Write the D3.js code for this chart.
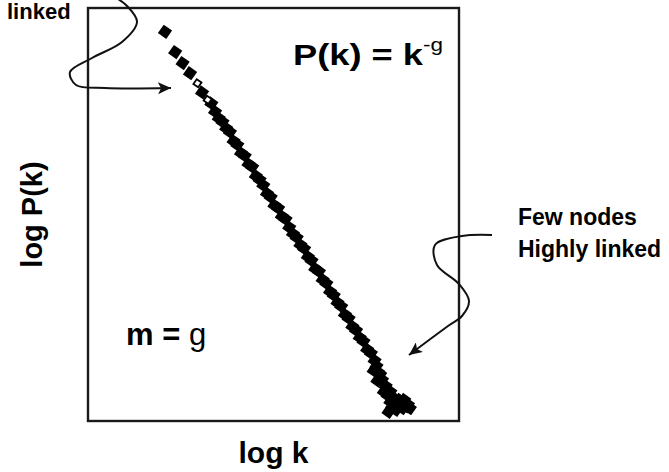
<!DOCTYPE html>
<html>
<head>
<meta charset="utf-8">
<script src="https://cdn.jsdelivr.net/npm/d3@7"></script>
<style>
  body { margin: 0; background: #fff; }
  svg { display: block; font-family: "Liberation Sans", Arial, sans-serif; }
</style>
</head>
<body>
<svg id="drawing_region"></svg>
<script>
// log k / log P(k) readings (filled squares)
const logK = [0.83, 0.94, 1.02, 1.10, 1.23,
  1.33, 1.37, 1.41, 1.45, 1.49, 1.53, 1.57, 1.61, 1.65, 1.69,
  1.73, 1.77, 1.81, 1.85, 1.89, 1.93, 1.97, 2.01, 2.05, 2.09,
  2.13, 2.17, 2.21, 2.25, 2.29, 2.33, 2.37, 2.41, 2.45, 2.49,
  2.53, 2.57, 2.61, 2.65, 2.69, 2.73, 2.77, 2.81, 2.85, 2.89,
  2.93, 2.97, 3.01, 3.05, 3.09, 3.11, 3.13, 3.17, 3.21, 3.19,
  3.26, 3.30, 3.26, 3.34, 3.41, 3.45, 3.39, 3.32, 3.47,
  3.15, 3.23, 3.28, 3.36, 3.43, 3.24, 3.12, 3.08];
const logP = [-0.26, -0.48, -0.60, -0.71, -0.92,
  -1.04, -1.13, -1.20, -1.24, -1.31, -1.35, -1.45, -1.49, -1.58, -1.61,
  -1.70, -1.73, -1.83, -1.87, -1.93, -2.02, -2.06, -2.15, -2.18, -2.27,
  -2.30, -2.39, -2.46, -2.50, -2.58, -2.62, -2.71, -2.75, -2.84, -2.87,
  -2.96, -3.00, -3.09, -3.13, -3.21, -3.25, -3.34, -3.38, -3.47, -3.51,
  -3.59, -3.63, -3.72, -3.76, -3.84, -3.90, -3.97, -4.05, -4.12, -4.18,
  -4.18, -4.25, -4.29, -4.32, -4.27, -4.32, -4.36, -4.38, -4.36,
  -3.99, -4.22, -4.34, -4.27, -4.34, -4.40, -4.06, -3.95];
// open squares
const openK = [1.18, 1.29];
const openP = [-0.82, -1.00];

const xLabel = "log k";
const yLabel = "log P(k)";

class LogLogChart {
    constructor( config ) {
        this.config = config;
        this.init();
    }

    init() {
        let self = this;
        self.svg = d3.select( self.config.parent )
            .attr('width', self.config.width)
            .attr('height', self.config.height);

        const m = self.config.margin;
        self.x0 = m.left; self.x1 = self.config.width - m.right;
        self.y0 = m.top;  self.y1 = self.config.height - m.bottom;

        self.xscale = d3.scaleLinear().domain([0, 4]).range([self.x0, self.x1]);
        self.yscale = d3.scaleLinear().domain([-4.5, 0]).range([self.y1, self.y0]);

        self.svg.append('defs').append('marker')
            .attr('id', 'head')
            .attr('markerUnits', 'userSpaceOnUse')
            .attr('markerWidth', 14).attr('markerHeight', 12)
            .attr('refX', 13).attr('refY', 6)
            .attr('orient', 'auto')
          .append('path')
            .attr('d', 'M0,0 L13,6 L0,12 L3,6 Z')
            .attr('fill', '#111');
    }

    update() {
        this.render();
    }

    render() {
        let self = this;
        const sym = d3.symbol().type(d3.symbolSquare).size(104);

        // frame
        self.svg.append('rect')
            .attr('x', self.x0).attr('y', self.y0)
            .attr('width', self.x1 - self.x0).attr('height', self.y1 - self.y0)
            .attr('fill', 'none').attr('stroke', '#1a1a1a').attr('stroke-width', 2.4);

        const filled = logK.map( (k, i) => ({k: k, p: logP[i]}) );
        const open = openK.map( (k, i) => ({k: k, p: openP[i]}) );

        self.svg.append('g').selectAll('path')
            .data(filled).join('path')
            .attr('d', sym)
            .attr('transform', d => `translate(${self.xscale(d.k)},${self.yscale(d.p)}) rotate(35)`)
            .attr('fill', '#000');

        self.svg.append('g').selectAll('path')
            .data(open).join('path')
            .attr('d', d3.symbol().type(d3.symbolSquare).size(34))
            .attr('transform', d => `translate(${self.xscale(d.k)},${self.yscale(d.p)}) rotate(35)`)
            .attr('fill', '#fff').attr('stroke', '#000').attr('stroke-width', 1.8);

        // axis titles
        self.svg.append('text')
            .attr('x', (self.x0 + self.x1) / 2).attr('y', 463)
            .attr('text-anchor', 'middle')
            .attr('font-size', 30).attr('font-weight', 'bold')
            .text(xLabel);
        self.svg.append('text')
            .attr('transform', `translate(42,${(self.y0 + self.y1) / 2}) rotate(-90)`)
            .attr('text-anchor', 'middle')
            .attr('font-size', 29).attr('font-weight', 'bold')
            .text(yLabel);

        // formula
        const f = self.svg.append('text')
            .attr('transform', 'translate(293,65) scale(1.25,1)')
            .attr('font-size', 29).attr('font-weight', 'bold');
        f.append('tspan').text('P(k) = k');
        f.append('tspan').attr('dy', -14).attr('font-size', 18).attr('font-weight', 'normal').text('-g');

        const mg = self.svg.append('text')
            .attr('x', 126).attr('y', 345)
            .attr('font-size', 31);
        mg.append('tspan').attr('font-weight', 'bold').text('m = ');
        mg.append('tspan').text('g');

        self.svg.append('text')
            .attr('x', 7).attr('y', 19)
            .attr('font-size', 22).attr('font-weight', 'bold')
            .text('linked');

        const note = self.svg.append('text')
            .attr('font-size', 23).attr('font-weight', 'bold');
        note.append('tspan').attr('x', 518).attr('y', 225).text('Few nodes');
        note.append('tspan').attr('x', 518).attr('y', 257).text('Highly linked');

        // squiggly arrows
        const curve = d3.line().curve(d3.curveCatmullRom.alpha(0.5));
        const arrowA = [[110,-6],[127,6],[137,22],[122,42],[92,58],[70,72],[76,85],[105,88],[171,88]];
        const arrowB = [[492,235],[462,236],[435,245],[437,265],[459,284],[469,301],[462,316],[448,326],[409,355]];
        [arrowA, arrowB].forEach( pts => {
            self.svg.append('path')
                .attr('d', curve(pts))
                .attr('fill', 'none')
                .attr('stroke', '#111').attr('stroke-width', 2)
                .attr('marker-end', 'url(#head)');
        });
    }
}

const chart = new LogLogChart({
    parent: '#drawing_region',
    width: 669,
    height: 472,
    margin: {top: 8, right: 210, bottom: 51, left: 88}
});
chart.update();
</script>
</body>
</html>
